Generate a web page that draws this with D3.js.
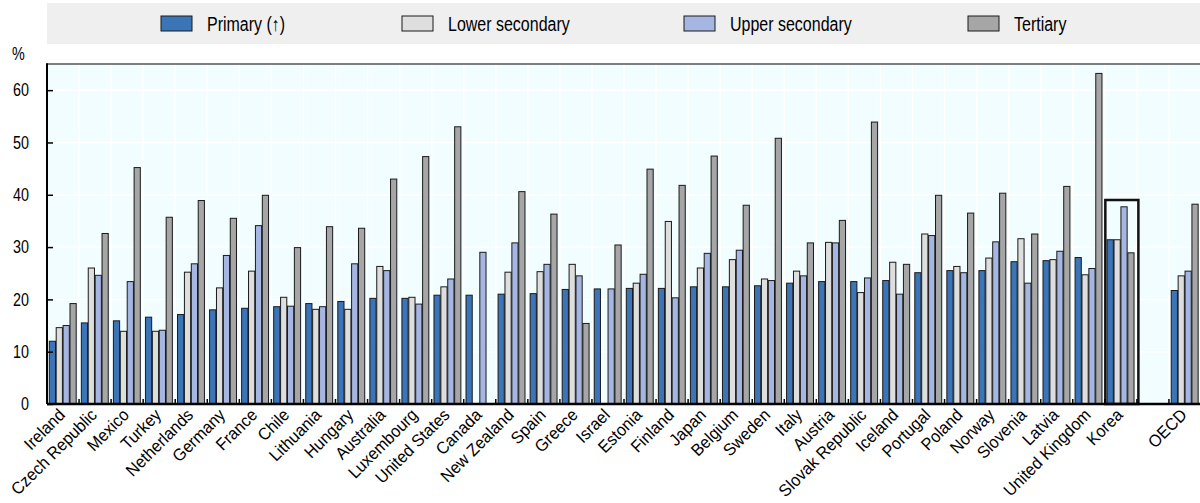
<!DOCTYPE html>
<html>
<head>
<meta charset="utf-8">
<script src="https://cdn.jsdelivr.net/npm/d3@7"></script>
<style>
  html, body { margin: 0; padding: 0; background: #ffffff; }
  svg { display: block; }
  .narrow { font-family: "Liberation Sans", Arial, sans-serif; fill: #000; }
</style>
</head>
<body>
<svg id="chart" width="1200" height="503"></svg>
<script>
// Countries, ordered by the primary-level value
const countries = ["Ireland", "Czech Republic", "Mexico", "Turkey", "Netherlands", "Germany", "France", "Chile",
  "Lithuania", "Hungary", "Australia", "Luxembourg", "United States", "Canada", "New Zealand", "Spain", "Greece",
  "Israel", "Estonia", "Finland", "Japan", "Belgium", "Sweden", "Italy", "Austria", "Slovak Republic", "Iceland",
  "Portugal", "Poland", "Norway", "Slovenia", "Latvia", "United Kingdom", "Korea", "", "OECD"];

const seriesNames = ["Primary (\u2191)", "Lower secondary", "Upper secondary", "Tertiary"];
const seriesColors = ["#3c74b8", "#dedede", "#a6b6e3", "#a6a6a6"];

// Share (%) per level of education; null = not available
const primary = [12.0, 15.5, 15.9, 16.6, 17.1, 18.0, 18.3, 18.6, 19.2, 19.6, 20.2, 20.2, 20.8, 20.8, 21.0, 21.1, 21.9,
  22.0, 22.1, 22.1, 22.4, 22.4, 22.6, 23.1, 23.4, 23.4, 23.6, 25.1, 25.5, 25.5, 27.2, 27.4, 28.0, 31.4, null, 21.7];
const lowerSecondary = [14.6, 26.0, 13.9, 13.9, 25.2, 22.2, 25.4, 20.4, 18.1, 18.1, 26.3, 20.4, 22.4, null, 25.2, 25.3, 26.7,
  null, 23.1, 34.9, 26.0, 27.6, 23.9, 25.4, 30.9, 21.3, 27.1, 32.5, 26.3, 27.9, 31.6, 27.6, 24.7, 31.4, null, 24.5];
const upperSecondary = [15.0, 24.6, 23.4, 14.1, 26.8, 28.4, 34.1, 18.7, 18.6, 26.8, 25.5, 19.1, 23.9, 29.0, 30.8, 26.7, 24.5,
  22.0, 24.8, 20.3, 28.8, 29.4, 23.6, 24.5, 30.8, 24.1, 21.0, 32.2, 25.1, 31.0, 23.1, 29.2, 25.9, 37.7, null, 25.4];
const tertiary = [19.2, 32.6, 45.2, 35.7, 38.9, 35.5, 39.9, 29.9, 33.9, 33.6, 43.0, 47.3, 53.0, null, 40.6, 36.3, 15.4,
  30.4, 44.9, 41.8, 47.4, 38.0, 50.8, 30.8, 35.1, 53.9, 26.7, 39.9, 36.5, 40.3, 32.5, 41.6, 63.2, 28.9, null, 38.2];

const yTicks = [0, 10, 20, 30, 40, 50, 60];
const highlighted = "Korea";
const highlightTop = 39;

const series = [primary, lowerSecondary, upperSecondary, tertiary];
const keys = countries.map((c, i) => c === "" ? "__gap" + i : c);

// Horizontal squeeze applied to texts, giving a condensed face
const squeeze = 0.82;
const labelSqueeze = 0.95;

const svg = d3.select("#chart");
const plotLeft = 47, plotRight = 1201, plotTop = 64, plotBottom = 404;

const x = d3.scaleBand().domain(keys).range([plotLeft, plotRight]).paddingInner(0).paddingOuter(0);
const xs = d3.scaleBand().domain(d3.range(4)).range([2.3, 29.2]).paddingInner(0.1);
const y = d3.scaleLinear().domain([0, 65]).range([plotBottom, plotTop]);

// Legend strip
const legend = svg.append("g");
legend.append("rect").attr("x", 47).attr("y", 3).attr("width", 1153).attr("height", 41).attr("fill", "#efefef");
const legendX = [161, 402, 684, 968];
seriesNames.forEach((name, i) => {
  const g = legend.append("g").attr("transform", `translate(${legendX[i]},16)`);
  g.append("rect").attr("width", 31).attr("height", 15).attr("fill", seriesColors[i])
    .attr("stroke", "#1a1a1a").attr("stroke-width", 1);
  g.append("text").attr("class", "narrow")
    .attr("transform", `translate(46,14.5) scale(${squeeze},1)`)
    .attr("font-size", 19.5).text(name);
});

// Plot background
svg.append("rect").attr("x", plotLeft).attr("y", plotTop).attr("width", 1200 - plotLeft).attr("height", plotBottom - plotTop)
  .attr("fill", "#f2fdff");

// Grid lines
const grid = svg.append("g").attr("stroke", "#ffffff").attr("stroke-width", 1.5);
yTicks.filter(t => t > 0).forEach(t => {
  grid.append("line").attr("x1", plotLeft).attr("x2", 1200).attr("y1", y(t)).attr("y2", y(t));
});
keys.slice(1).forEach(k => {
  grid.append("line").attr("x1", x(k)).attr("x2", x(k)).attr("y1", plotTop).attr("y2", plotBottom);
});

// Bars
const bars = svg.append("g");
keys.forEach((k, ci) => {
  series.forEach((vals, si) => {
    const v = vals[ci];
    if (v == null) return;
    bars.append("rect")
      .attr("x", x(k) + xs(si))
      .attr("y", y(v))
      .attr("width", xs.bandwidth())
      .attr("height", y(0) - y(v))
      .attr("fill", seriesColors[si])
      .attr("stroke", "#1a1a1a")
      .attr("stroke-width", 1);
  });
});

// Highlight box around Korea
svg.append("rect")
  .attr("x", x(highlighted) + 0.5)
  .attr("y", y(highlightTop))
  .attr("width", x.bandwidth() + 1)
  .attr("height", y(0) - y(highlightTop))
  .attr("fill", "none").attr("stroke", "#111").attr("stroke-width", 2.5);

// Frame: top border
svg.append("line").attr("x1", plotLeft).attr("x2", 1200).attr("y1", plotTop).attr("y2", plotTop)
  .attr("stroke", "#555").attr("stroke-width", 1.5);

// Y axis
const yAxis = d3.axisRight(y).tickValues(yTicks).tickSize(6).tickFormat("");
const yg = svg.append("g").attr("transform", `translate(${plotLeft},0)`).call(yAxis);
yg.select(".domain").remove();
yg.selectAll(".tick line").attr("stroke", "#000").attr("stroke-width", 1.5);
svg.append("line").attr("x1", plotLeft).attr("x2", plotLeft).attr("y1", plotTop - 0.75).attr("y2", plotBottom)
  .attr("stroke", "#000").attr("stroke-width", 2);
svg.append("g").selectAll("text").data(yTicks).join("text")
  .attr("class", "narrow")
  .attr("transform", d => `translate(29,${y(d)}) scale(${squeeze},1)`)
  .attr("dy", "0.36em")
  .attr("text-anchor", "end").attr("font-size", 17.5).text(d => d);
svg.append("text").attr("class", "narrow")
  .attr("transform", `translate(12,60) scale(${squeeze},1)`)
  .attr("font-size", 17.5).text("%");

// X axis: ticks at band boundaries
const xb = svg.append("g").attr("stroke", "#000").attr("stroke-width", 1.5);
keys.slice(1).forEach(k => {
  xb.append("line").attr("x1", x(k)).attr("x2", x(k)).attr("y1", plotBottom).attr("y2", plotBottom - 5);
});
svg.append("line").attr("x1", plotLeft).attr("x2", 1200).attr("y1", plotBottom).attr("y2", plotBottom)
  .attr("stroke", "#000").attr("stroke-width", 2.5);

// Category labels
svg.append("g").selectAll("text").data(keys.filter((k, i) => countries[i] !== "")).join("text")
  .attr("class", "narrow")
  .attr("font-size", 17)
  .attr("text-anchor", "end")
  .attr("transform", d => `translate(${x(d) + x.bandwidth() / 2 + 3},${plotBottom + 12}) rotate(-45) scale(${labelSqueeze},1)`)
  .text(d => d);
</script>
</body>
</html>
